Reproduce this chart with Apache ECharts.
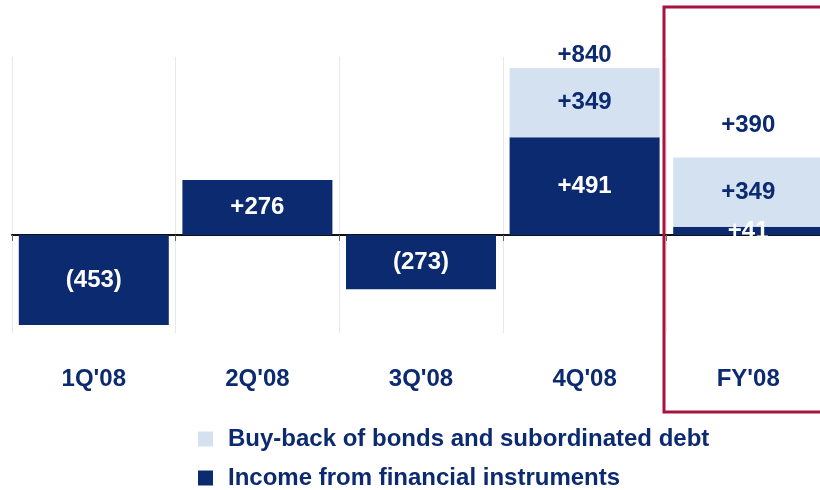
<!DOCTYPE html>
<html lang="en">
<head>
    <meta charset="UTF-8">
    <title>Chart</title>
    <style>
        html, body, #echarts {
            margin: 0px;
            padding: 0px;
            width: 100%;
            height: 100%;
            background: #ffffff;
        }
    </style>
</head>
<body>
    <div id="echarts"></div>
    <script src="https://cdn.jsdelivr.net/npm/echarts@6/dist/echarts.min.js"></script>
    <script>
        // categories and values
        var categories = ["1Q'08", "2Q'08", "3Q'08", "4Q'08", "FY'08"];
        var income = [-453, 276, -273, 491, 41];
        var buyback = ['-', '-', '-', 349, 349];
        var totals = ['-', '-', '-', 840, 390];
        var seriesNames = ['Buy-back of bonds and subordinated debt', 'Income from financial instruments'];

        var navy = '#0b2a70';
        var light = '#d4e1f1';
        var font = 'Liberation Sans, Arial, sans-serif';

        function fmt(v) {
            if (v > 0) return '+' + v;
            return '(' + (-v) + ')';
        }

        // label distance above the stack for the total numbers
        var totalGap = [0, 0, 0, 1, 20];

        var totalData = [];
        for (var i = 0; i < totals.length; i++) {
            if (totals[i] === '-') {
                totalData.push('-');
            } else {
                totalData.push({
                    value: 0,
                    total: totals[i],
                    label: { distance: totalGap[i] }
                });
            }
        }

        function legendAt(name, top) {
            return {
                orient: 'vertical',
                left: 198,
                top: top,
                padding: 0,
                itemWidth: 15,
                itemHeight: 15,
                icon: 'rect',
                data: [name],
                textStyle: {
                    color: navy,
                    fontSize: 24,
                    lineHeight: 24,
                    fontWeight: 'bold',
                    fontFamily: font,
                    padding: [0, 0, 0, 10]
                }
            };
        }

        var labelStyle = {
            fontSize: 24,
            fontWeight: 'bold',
            fontFamily: font
        };

        var myChart = echarts.init(document.getElementById('echarts'));

        myChart.setOption({
            animation: false,
            grid: { left: 12, width: 818, top: 57, bottom: 157, outerBoundsMode: 'none', containLabel: false },
            legend: [legendAt(seriesNames[0], 427), legendAt(seriesNames[1], 466)],
            xAxis: {
                type: 'category',
                data: categories,
                axisLine: { onZero: true, lineStyle: { color: '#111', width: 2 } },
                axisTick: { show: true, length: 6, lineStyle: { color: '#666' } },
                splitLine: { show: true, lineStyle: { color: '#e8e8e8', width: 1 } },
                axisLabel: {
                    margin: 34,
                    color: navy,
                    fontSize: 24,
                    fontWeight: 'bold',
                    fontFamily: font
                }
            },
            yAxis: {
                type: 'value',
                min: -493,
                max: 895,
                show: false,
                splitLine: { show: false }
            },
            graphic: [{
                type: 'rect',
                shape: { x: 664, y: 7, width: 180, height: 405 },
                style: { fill: 'none', stroke: '#a8123f', lineWidth: 3 },
                z: 100
            }],
            series: [{
                name: seriesNames[1],
                type: 'bar',
                stack: 'a',
                barWidth: 150,
                data: income,
                itemStyle: { color: navy },
                label: Object.assign({
                    show: true,
                    position: 'inside',
                    color: '#ffffff',
                    formatter: function (p) { return fmt(p.value); }
                }, labelStyle)
            }, {
                name: seriesNames[0],
                type: 'bar',
                stack: 'a',
                barWidth: 150,
                data: buyback,
                itemStyle: { color: light },
                label: Object.assign({
                    show: true,
                    position: 'inside',
                    color: navy,
                    formatter: function (p) { return fmt(p.value); }
                }, labelStyle)
            }, {
                name: 'total',
                type: 'bar',
                stack: 'a',
                barWidth: 150,
                data: totalData,
                itemStyle: { color: 'rgba(0,0,0,0)' },
                label: Object.assign({
                    show: true,
                    position: 'top',
                    color: navy,
                    formatter: function (p) { return fmt(p.data.total); }
                }, labelStyle)
            }]
        });

        window.addEventListener("resize", function () {
            myChart.resize();
        });
    </script>
</body>
</html>
